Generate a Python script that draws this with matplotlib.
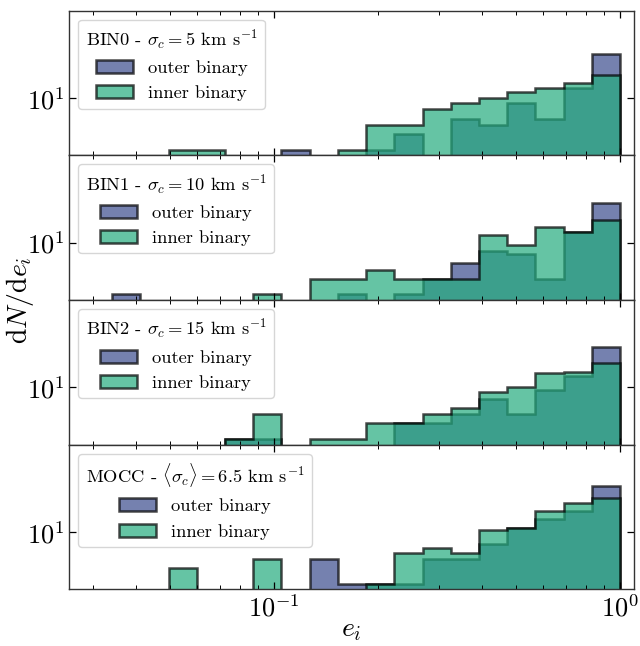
import numpy as np
import matplotlib
matplotlib.use("Agg")
import matplotlib.pyplot as plt

plt.rcParams['font.family'] = 'serif'
plt.rcParams['font.serif'] = ['cmr10', 'DejaVu Serif']
plt.rcParams['mathtext.fontset'] = 'cm'
plt.rcParams['axes.unicode_minus'] = False
plt.rcParams['axes.formatter.use_mathtext'] = True

# Bin edges (log-spaced, 18 bins ending at e=1)
n_bins = 18
log_emin = -1.467
edges = np.logspace(log_emin, 0, n_bins + 1)
centers = np.sqrt(edges[:-1] * edges[1:])

titles = [r"BIN0 - $\sigma_c = 5$ km s$^{-1}$",
          r"BIN1 - $\sigma_c = 10$ km s$^{-1}$",
          r"BIN2 - $\sigma_c = 15$ km s$^{-1}$",
          r"MOCC - $\langle\sigma_c\rangle = 6.5$ km s$^{-1}$"]

# Counts per bin, low e -> high e
outer_bin0 = [0, 0, 0, 0, 0, 0, 1, 0, 0, 1, 2, 0, 4, 3, 8, 4, 16, 71]
inner_bin0 = [0, 0, 1, 1, 0, 0, 0, 0, 1, 3, 3, 6, 8, 10, 13, 16, 20, 28]

outer_bin1 = [1, 0, 0, 0, 0, 0, 0, 0, 1, 0, 1, 2, 4, 7, 6, 2, 16, 60]
inner_bin1 = [0, 0, 0, 0, 0, 1, 0, 2, 2, 3, 2, 2, 2, 14, 9, 20, 16, 28]

outer_bin2 = [0, 0, 0, 0, 1, 1, 0, 0, 0, 0, 2, 2, 3, 6, 3, 9, 17, 62]
inner_bin2 = [0, 0, 0, 0, 1, 3, 0, 1, 1, 2, 2, 3, 4, 8, 10, 19, 20, 30]

outer_mocc = [0, 0, 0, 0, 0, 0, 0, 3, 1, 1, 1, 3, 3, 6, 12, 18, 26, 80]
inner_mocc = [0, 0, 2, 0, 0, 3, 0, 0, 0, 1, 4, 5, 4, 11, 12, 26, 37, 47]

outers = [outer_bin0, outer_bin1, outer_bin2, outer_mocc]
inners = [inner_bin0, inner_bin1, inner_bin2, inner_mocc]

outer_color = (58/255, 76/255, 142/255)
inner_color = (36/255, 172/255, 126/255)

fig = plt.figure(figsize=(6.4, 6.46), dpi=100)
axes = fig.subplots(4, 1, sharex=True, gridspec_kw=dict(hspace=0))
fig.subplots_adjust(left=0.108, right=0.991, top=1 - 10.5 / 646, bottom=1 - 589.3 / 646)

for ax, title, out, inn in zip(axes, titles, outers, inners):
    ax.hist(centers, bins=edges, weights=out, histtype='stepfilled',
            color=outer_color, edgecolor='black', linewidth=1.8, alpha=0.7,
            label='outer binary')
    ax.hist(centers, bins=edges, weights=inn, histtype='stepfilled',
            color=inner_color, edgecolor='black', linewidth=1.8, alpha=0.7,
            label='inner binary')
    ax.set_xscale('log')
    ax.set_yscale('log')
    ax.set_xlim(0.0256, 1.1)
    ax.set_ylim(0.775, 505)
    ax.set_yticks([10])
    ax.yaxis.set_minor_locator(matplotlib.ticker.NullLocator())
    ax.tick_params(which='both', direction='in', top=True, right=True,
                   labelsize=19)
    ax.tick_params(which='major', length=5, width=0.9)
    ax.tick_params(which='minor', length=3, width=0.7)
    for sp in ax.spines.values():
        sp.set_color('0.2')
        sp.set_linewidth(1.0)
    ax.legend(loc='upper left', title=title, fontsize=13.3,
              title_fontsize=13.3)

axes[-1].set_xlabel(r"$e_i$", fontsize=20, labelpad=-3)
axes[1].set_ylabel(r"$\mathrm{d}N/\mathrm{d}e_i$", fontsize=20)
axes[1].yaxis.set_label_coords(-0.058, 0.0)

fig.savefig("out.png", dpi=100)
